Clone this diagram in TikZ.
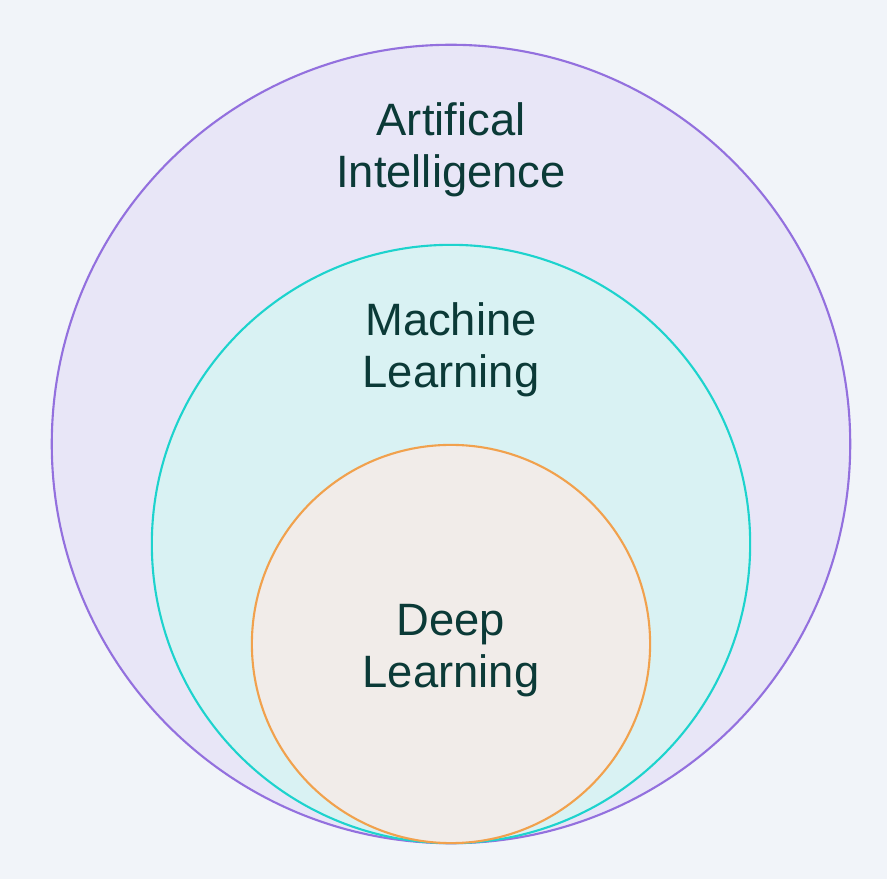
\documentclass[tikz,border=0pt]{standalone}
\usepackage{fontspec}
\setmainfont{Liberation Sans}
\usetikzlibrary{positioning,shapes.geometric}
\definecolor{pagebg}{HTML}{F1F4F9}
\definecolor{aifill}{HTML}{E8E6F7}
\definecolor{ailine}{HTML}{9370DE}
\definecolor{mlfill}{HTML}{D9F2F3}
\definecolor{mlline}{HTML}{1DD3CD}
\definecolor{dlfill}{HTML}{F1ECE9}
\definecolor{dlline}{HTML}{F1A14D}
\definecolor{labeltext}{HTML}{0B3A37}
\tikzset{
	every node/.style = {inner sep = 0},
	ring/.style = {circle, draw, line width=0.6pt},
	setlabel/.style = {text=labeltext, align=center, anchor=base,
		font=\fontsize{12.9}{14.8}\selectfont}
}

\begin{document}
\begin{tikzpicture}[x=0.01cm, y=-0.01cm]
		\useasboundingbox[fill=pagebg] (0,0) rectangle (887,879);
		\node(ai)[ring, draw=ailine, fill=aifill, minimum size=7.98cm] at (451,444) {};
		\node(ml)[ring, draw=mlline, fill=mlfill, minimum size=5.98cm] at (451,544) {};
		\node(dl)[ring, draw=dlline, fill=dlfill, minimum size=3.98cm] at (451,644) {};
		
		\node(ailabel)[setlabel] at (451,188) {Artifical\\Intelligence};
		\node(mllabel)[setlabel] at (451,388) {Machine\\Learning};
		\node(dllabel)[setlabel] at (451,688) {Deep\\Learning};
\end{tikzpicture}
\end{document}
